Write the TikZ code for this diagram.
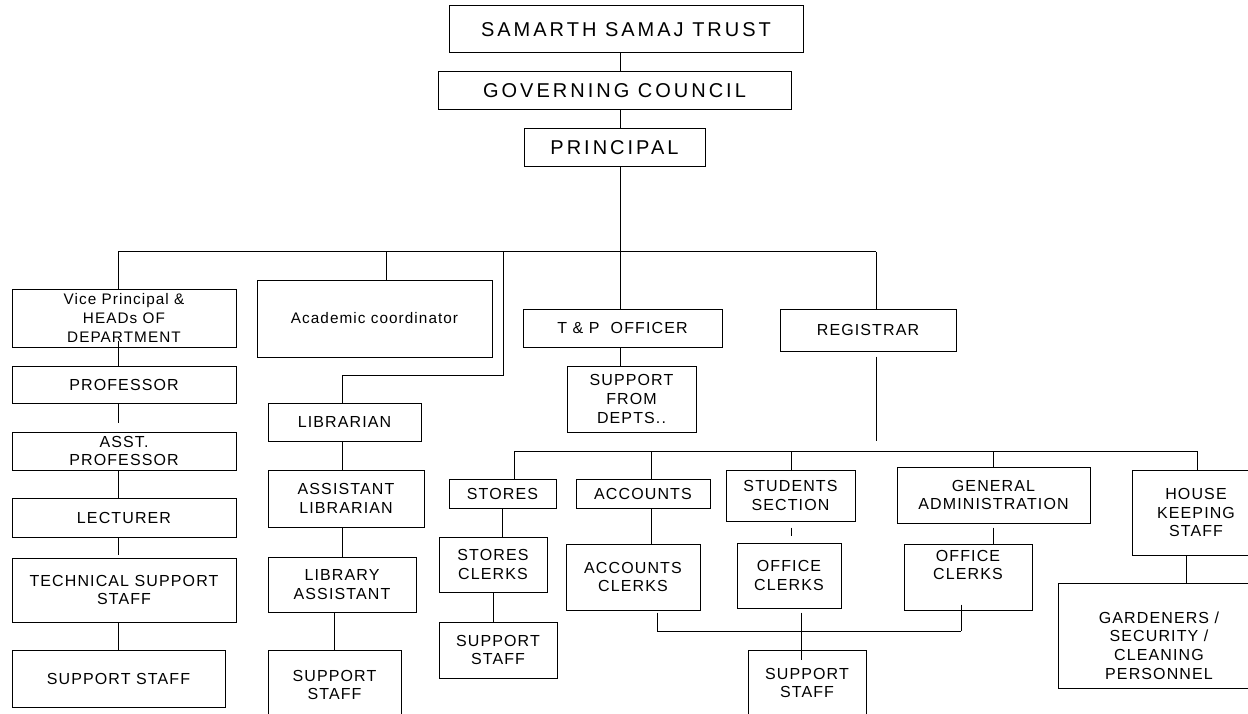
\documentclass[tikz,border=0pt]{standalone}
\usepackage{fontspec}
\setmainfont{Liberation Sans}[LetterSpace=7]
\newfontfamily\topfamily{Liberation Sans}[LetterSpace=15]
\usetikzlibrary{calc}

\newcommand\postfont{\fontsize{16}{18.7}\selectfont}
\newcommand\mixfont{\fontsize{15.3}{18.7}\selectfont}
\newcommand\topfont{\topfamily\fontsize{20}{24}\selectfont}

\tikzset{
  post/.style={draw, align=center, inner sep=0pt, font=\postfont},
  toppost/.style={post, font=\topfont},
  wh/.style 2 args={minimum width=#1pt, minimum height=#2pt},
}

\begin{document}
\begin{tikzpicture}[x=1pt, y=-1pt, line width=1pt]
\useasboundingbox (0,0) rectangle (1248,714);
\clip (0,0) rectangle (1248,714);

% top
\node[toppost, wh={354}{47}] (trust) at (626,29.5) {SAMARTH SAMAJ TRUST};
\node[toppost, wh={353}{38}] (gov) at (614.5,91) {GOVERNING COUNCIL};
\node[toppost, wh={181}{38}] (principal) at (614.5,148) {PRINCIPAL};

% bus under the principal
\coordinate (b1vp) at (118,252);
\coordinate (b1ac) at (386,252);
\coordinate (b1lib) at (503,252);
\coordinate (b1tp) at (620,252);
\coordinate (b1reg) at (876,252);
\coordinate (libbend) at (342,375);

% academic side
\node[post, wh={224}{58}, font=\mixfont] (vp) at (124,318) {Vice Principal \&\\HEADs OF\\DEPARTMENT};
\node[post, wh={224}{37}] (prof) at (124,384.5) {PROFESSOR};
\node[post, wh={224}{38}] (asstprof) at (124,451) {ASST.\\PROFESSOR};
\node[post, wh={224}{39}] (lect) at (124,517.5) {LECTURER};
\node[post, wh={224}{64}] (tech) at (124,590) {TECHNICAL SUPPORT\\STAFF};
\node[post, wh={213}{57}] (vpsup) at (118.5,678.5) {SUPPORT STAFF};

\node[post, wh={235}{77}, font=\mixfont] (acad) at (374.5,318.5) {Academic coordinator};

% library
\node[post, wh={153}{38}] (lib) at (344.5,422) {LIBRARIAN};
\node[post, wh={156}{57}] (asstlib) at (346,498.5) {ASSISTANT\\LIBRARIAN};
\node[post, wh={148}{55}] (libasst) at (342,584.5) {LIBRARY\\ASSISTANT};
\node[post, wh={133}{70}] (libsup) at (334.5,685) {SUPPORT\\STAFF};

% training and placement
\node[post, wh={199}{38}] (tp) at (622.5,328) {T \& P\ \ OFFICER};
\node[post, wh={129}{66}] (tpsup) at (631.5,399) {SUPPORT\\FROM\\DEPTS..};

% office side
\node[post, wh={176}{42}] (reg) at (868,330) {REGISTRAR};

\coordinate (b2st) at (514,451);
\coordinate (b2ac) at (651,451);
\coordinate (b2su) at (791,451);
\coordinate (b2ga) at (993,451);
\coordinate (b2hk) at (1197,451);

\node[post, wh={107}{29}] (stores) at (502.5,493.5) {STORES};
\node[post, wh={108}{55}] (storescl) at (493,564.5) {STORES\\CLERKS};
\node[post, wh={118}{56}] (storesup) at (498,650) {SUPPORT\\STAFF};

\node[post, wh={134}{29}] (acc) at (643,493.5) {ACCOUNTS};
\node[post, wh={134}{66}] (acccl) at (633,577) {ACCOUNTS\\CLERKS};

\node[post, wh={129}{51}] (stud) at (790.5,495.5) {STUDENTS\\SECTION};
\node[post, wh={104}{65}] (studcl) at (789,575.5) {OFFICE\\CLERKS};

\node[post, wh={193}{56}] (gen) at (993.5,495) {GENERAL\\ADMINISTRATION};
\node[post, wh={128}{66}] (gencl) at (968,577) {OFFICE\\CLERKS\\\strut};

\node[post, wh={128}{85}] (hk) at (1196,512.5) {HOUSE\\KEEPING\\STAFF};
\node[post, wh={202}{105}] (gard) at (1159,635.5) {\strut\\GARDENERS /\\SECURITY /\\CLEANING\\PERSONNEL};

\coordinate (cbl) at (657,631);
\coordinate (cbr) at (961,631);
\coordinate (midtap) at (801,660);
\node[post, wh={118}{66}] (midsup) at (807,683) {SUPPORT\\STAFF};

% lines
\draw (trust.south -| b1tp) -- (gov.north -| b1tp);
\draw (gov.south -| b1tp) -- (principal.north -| b1tp);
\draw (principal.south -| b1tp) -- (tp.north -| b1tp);
\draw (b1vp) -- (b1reg);
\draw (b1vp) -- (b1vp |- vp.north);
\draw (b1ac) -- (b1ac |- acad.north);
\draw (b1lib) |- (libbend) -- (libbend |- lib.north);
\draw (b1reg) -- (b1reg |- reg.north);

\foreach \a/\b/\s/\e in {vp/prof/-7/0, prof/asstprof/0/9, asstprof/lect/0/0, lect/tech/0/3, tech/vpsup/0/0}
  \draw[shorten <=\s pt, shorten >=\e pt] (\a.south -| b1vp) -- (\b.north -| b1vp);

\draw (lib.south -| libbend) -- (asstlib.north -| libbend);
\draw (asstlib.south -| libbend) -- (libasst.north -| libbend);
\draw (libasst.south -| libsup.north) -- (libsup.north);

\draw (tp.south -| b1tp) -- (tpsup.north -| b1tp);

\draw[shorten <=5pt, shorten >=10pt] (reg.south -| b1reg) -- (b1reg |- b2st);
\draw (b2st) -- (b2hk);
\draw (b2st) -- (b2st |- stores.north);
\draw (b2ac) -- (b2ac |- acc.north);
\draw (b2su) -- (b2su |- stud.north);
\draw (b2ga) -- (b2ga |- gen.north);
\draw (b2hk) -- (b2hk |- hk.north);

\draw (stores.south) -- (stores.south |- storescl.north);
\draw (storescl.south) -- (storescl.south |- storesup.north);
\draw (acc.south -| b2ac) -- (acccl.north -| b2ac);
\draw[shorten <=6pt, shorten >=7pt] (stud.south -| b2su) -- (studcl.north -| b2su);
\draw[shorten <=4pt] (gen.south -| b2ga) -- (gencl.north -| b2ga);
\draw ([xshift=-10pt]hk.south) -- ([xshift=-10pt]hk.south |- gard.north);

% clerks to support staff
\draw (cbl) -- (cbr);
\draw[shorten <=2pt] (acccl.south -| cbl) -- (cbl);
\draw[shorten <=-6pt] (gencl.south -| cbr) -- (cbr);
\draw[shorten <=4pt] (studcl.south -| midtap) -- (midtap);
\end{tikzpicture}
\end{document}
